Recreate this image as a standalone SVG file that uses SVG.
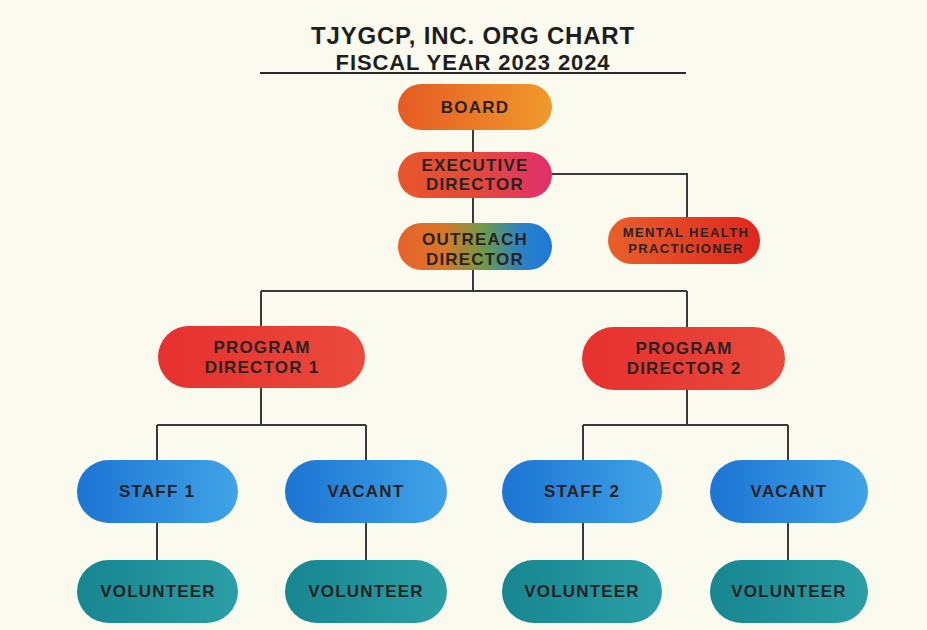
<svg xmlns="http://www.w3.org/2000/svg" width="927" height="630" viewBox="0 0 927 630">
<defs>
<linearGradient id="gBoard" x1="0" y1="0" x2="1" y2="0"><stop offset="0" stop-color="#e65a24"/><stop offset="1" stop-color="#f09a2c"/></linearGradient>
<linearGradient id="gExec" x1="0" y1="0" x2="1" y2="0"><stop offset="0" stop-color="#e8562a"/><stop offset="0.5" stop-color="#e44a3a"/><stop offset="1" stop-color="#e0306c"/></linearGradient>
<linearGradient id="gOut" x1="0" y1="0" x2="1" y2="0"><stop offset="0" stop-color="#e8602a"/><stop offset="0.3" stop-color="#d8782a"/><stop offset="0.55" stop-color="#6f9a48"/><stop offset="0.8" stop-color="#2a82c8"/><stop offset="1" stop-color="#1e78d8"/></linearGradient>
<linearGradient id="gMH" x1="0" y1="0" x2="1" y2="0"><stop offset="0" stop-color="#e8602a"/><stop offset="1" stop-color="#e0261e"/></linearGradient>
<linearGradient id="gPD" x1="0" y1="0" x2="1" y2="0"><stop offset="0" stop-color="#e6302e"/><stop offset="1" stop-color="#ea4a3c"/></linearGradient>
<linearGradient id="gStaff" x1="0" y1="0" x2="1" y2="0"><stop offset="0" stop-color="#1c74d4"/><stop offset="1" stop-color="#40a4e6"/></linearGradient>
<linearGradient id="gVol" x1="0" y1="0" x2="1" y2="0"><stop offset="0" stop-color="#168690"/><stop offset="1" stop-color="#2c9fa6"/></linearGradient>
</defs>
<style>
.t{font-family:"Liberation Sans",Arial,sans-serif;font-weight:bold;fill:#2b2222;text-anchor:middle;font-size:17px;letter-spacing:1.2px}
.s{font-size:13px;letter-spacing:1.4px}
.title{font-family:"Liberation Sans",Arial,sans-serif;font-weight:bold;fill:#1e1e1e;text-anchor:middle}
.c{fill:none;stroke:#3a3a3a;stroke-width:2}
</style>
<rect width="927" height="630" fill="#fbfaee"/>
<g id="title">
<text class="title" x="473" y="44" font-size="24" letter-spacing="0.8">TJYGCP, INC. ORG CHART</text>
<text class="title" x="473" y="70" font-size="22" letter-spacing="0.9">FISCAL YEAR 2023 2024</text>
<line x1="260" y1="73" x2="686" y2="73" stroke="#2a2a2a" stroke-width="2"/>
</g>
<g id="connectors">
<path class="c" d="M473 130V152M473 198V223M552 174H687V217M473 270V291M261 291H687M261 291V326M687 291V327M261 388V425M157 425H366M157 425V460M366 425V460M687 390V425M583 425H788M583 425V460M788 425V460M157 523V560M366 523V560M583 523V560M788 523V560"/>
</g>
<g id="board"><rect x="398" y="84" width="154" height="46" rx="23" fill="url(#gBoard)"/><text class="t" x="475" y="113">BOARD</text></g>
<g id="exec"><rect x="398" y="152" width="154" height="46" rx="23" fill="url(#gExec)"/><text class="t" x="475" y="171">EXECUTIVE</text><text class="t" x="475" y="190">DIRECTOR</text></g>
<g id="outreach"><rect x="398" y="223" width="154" height="47" rx="23.5" fill="url(#gOut)"/><text class="t" x="475" y="245">OUTREACH</text><text class="t" x="475" y="265">DIRECTOR</text></g>
<g id="mental"><rect x="608" y="217" width="152" height="47" rx="23.5" fill="url(#gMH)"/><text class="t s" x="686" y="237">MENTAL HEALTH</text><text class="t s" x="686" y="253">PRACTICIONER</text></g>
<g id="pd1"><rect x="158" y="326" width="207" height="62" rx="31" fill="url(#gPD)"/><text class="t" x="262" y="353">PROGRAM</text><text class="t" x="262" y="373">DIRECTOR 1</text></g>
<g id="pd2"><rect x="582" y="327" width="203" height="63" rx="31.5" fill="url(#gPD)"/><text class="t" x="684" y="354">PROGRAM</text><text class="t" x="684" y="374">DIRECTOR 2</text></g>
<g id="staff1"><rect x="77" y="460" width="161" height="63" rx="31.5" fill="url(#gStaff)"/><text class="t" x="157" y="497">STAFF 1</text></g>
<g id="vacant1"><rect x="285" y="460" width="162" height="63" rx="31.5" fill="url(#gStaff)"/><text class="t" x="366" y="497">VACANT</text></g>
<g id="staff2"><rect x="502" y="460" width="160" height="63" rx="31.5" fill="url(#gStaff)"/><text class="t" x="582" y="497">STAFF 2</text></g>
<g id="vacant2"><rect x="710" y="460" width="158" height="63" rx="31.5" fill="url(#gStaff)"/><text class="t" x="789" y="497">VACANT</text></g>
<g id="vol1"><rect x="77" y="560" width="161" height="63" rx="31.5" fill="url(#gVol)"/><text class="t" x="158" y="597">VOLUNTEER</text></g>
<g id="vol2"><rect x="285" y="560" width="162" height="63" rx="31.5" fill="url(#gVol)"/><text class="t" x="366" y="597">VOLUNTEER</text></g>
<g id="vol3"><rect x="502" y="560" width="160" height="63" rx="31.5" fill="url(#gVol)"/><text class="t" x="582" y="597">VOLUNTEER</text></g>
<g id="vol4"><rect x="710" y="560" width="158" height="63" rx="31.5" fill="url(#gVol)"/><text class="t" x="789" y="597">VOLUNTEER</text></g>
</svg>
